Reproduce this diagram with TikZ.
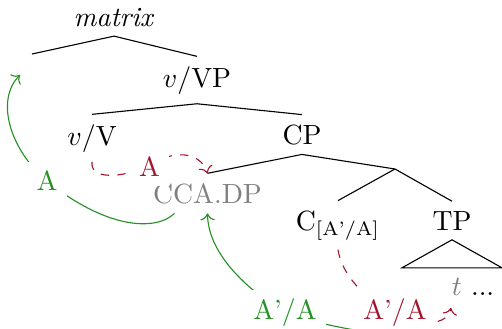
\documentclass[tikz,border=0pt]{standalone}
\usepackage{amsmath}
\usetikzlibrary{calc,arrows.meta}
\definecolor{movegreen}{RGB}{35,145,35}
\definecolor{agreered}{RGB}{165,20,45}
\begin{document}
\begin{tikzpicture}[x=0.36pt,y=-0.36pt,
  word/.style={anchor=base},
  branch/.style={line width=0.4pt},
  greenmove/.style={movegreen,line width=0.4pt,->},
  redmove/.style={agreered,line width=0.4pt,dashed,->},
  greentag/.style={text=movegreen,fill=white},
  redtag/.style={text=agreered,fill=white}]
\useasboundingbox (0,0) rectangle (502,329);

% tree labels
\node[word] (matrix) at (114,26) {\textit{matrix}};
\node[word] (vVP) at (197,87) {$v$/VP};
\node[word] (vV) at (92,145) {$v$/V};
\node[word] (CP) at (302,144) {CP};
\node[word,text=gray] (cca) at (207.5,203) {CCA.DP};
\node[word] (cA) at (338,230) {C$_{\text{[A'/A]}}$};
\node[word] (TP) at (452,230) {TP};
\node[word] (tt) at (473,295) {\textcolor{gray}{$t$} ...};

% empty positions
\coordinate (mleft) at (32,54);
\coordinate (cbar) at (395,169);

% branches
\draw[branch] (matrix.south) -- (mleft);
\draw[branch] (matrix.south) -- (vVP.north);
\draw[branch] (vVP.south) -- (vV.north);
\draw[branch] (vVP.south) -- (CP.north);
\draw[branch] (CP.south) -- (cca.north);
\draw[branch] (CP.south) -- (cbar);
\draw[branch] (cbar) -- (cA.north);
\draw[branch] (cbar) -- (TP.north);
\draw[branch] (TP.south) -- ++(-50,28) -- ++(100,0) -- cycle;

% movement paths
\coordinate (mtgt) at (20,75);
\coordinate (gsrc) at (390,336);

\draw[greenmove] ($(cca.south)+(-33,0)$) .. controls (155,232) and (105,228) .. (47,181)
  node[greentag] {A} .. controls (10,150) and (-5,100) .. (mtgt);

\draw[greenmove] (gsrc) .. controls (365,332) and (315,324) .. (285,313)
  node[greentag] {A'/A} .. controls (240,285) and (208,250) .. (cca.south);

\draw[redmove] (vV.south) .. controls (90,180) and (120,178) .. (149.5,166.5)
  node[redtag] {A} .. controls (170,150) and (200,150) .. (cca.north);

\draw[redmove] (cA.south) .. controls (342,275) and (365,300) .. (395,313)
  node[redtag] {A'/A} .. controls (420,328) and (448,325) .. ($(tt.south west)+(9,3)$);
\end{tikzpicture}
\end{document}
